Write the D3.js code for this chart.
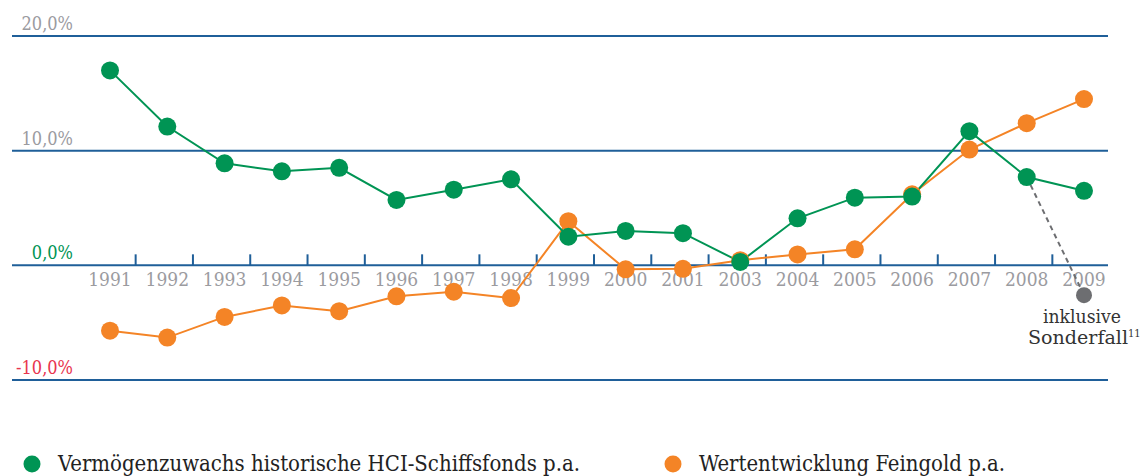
<!DOCTYPE html>
<html>
<head>
<meta charset="utf-8">
<script src="https://cdn.jsdelivr.net/npm/d3@7"></script>
<style>
  body { margin: 0; background: #fff; }
  svg { display: block; }
  svg text { font-family: "DejaVu Serif Condensed", "DejaVu Serif", serif; font-stretch: condensed; }
</style>
</head>
<body>
<svg width="1146" height="476"></svg>
<script>
// Years on the axis (2002 is not shown in the original).
var years = ["1991", "1992", "1993", "1994", "1995", "1996", "1997", "1998", "1999",
    "2000", "2001", "2003", "2004", "2005", "2006", "2007", "2008", "2009"];

// Vermögenzuwachs historische HCI-Schiffsfonds p.a. (%)
var schiffsfonds = [17.0, 12.1, 8.9, 8.2, 8.5, 5.7, 6.6, 7.5, 2.5,
    3.0, 2.8, 0.3, 4.1, 5.9, 6.0, 11.7, 7.7, 6.5];

// Wertentwicklung Feingold p.a. (%)
var feingold = [-5.7, -6.3, -4.5, -3.5, -4.0, -2.7, -2.3, -2.85, 3.85,
    -0.35, -0.3, 0.45, 0.95, 1.4, 6.2, 10.1, 12.4, 14.5];

// 2009 inklusive Sonderfall
var sonderfall = { year: "2009", value: -2.6, from: "2008" };

var yTicks = [20, 10, 0, -10];
var yTickLabels = ["20,0%", "10,0%", "0,0%", "-10,0%"];
var legendLabels = ["Vermögenzuwachs historische HCI-Schiffsfonds p.a.", "Wertentwicklung Feingold p.a."];

var green = "#009454", orange = "#f48426", blue = "#1f5f99", grey = "#9b9b9f";

var svg = d3.select("svg");

var x = d3.scalePoint().domain(years).range([110, 1084]);
var y = d3.scaleLinear().domain([-10, 20]).range([380, 36]);

// gridlines
svg.append("g")
    .selectAll("line")
    .data(yTicks)
    .enter().append("line")
    .attr("x1", 12)
    .attr("x2", 1108)
    .attr("y1", function (d) { return y(d); })
    .attr("y2", function (d) { return y(d); })
    .attr("stroke", blue)
    .attr("stroke-width", 2);

// y labels
svg.append("g")
    .selectAll("text")
    .data(yTicks)
    .enter().append("text")
    .attr("x", 73)
    .attr("y", function (d) { return y(d) - 6; })
    .attr("text-anchor", "end")
    .attr("font-size", 18)
    .attr("fill", function (d) {
        if (d === 0) return green;
        if (d < 0) return "#e8344e";
        return grey;
    })
    .text(function (d, i) { return yTickLabels[i]; });

// small ticks between years on the zero line
var step = x.step();
svg.append("g")
    .selectAll("line")
    .data(years.slice(0, -1))
    .enter().append("line")
    .attr("x1", function (d) { return x(d) + step / 2 - 3; })
    .attr("x2", function (d) { return x(d) + step / 2 - 3; })
    .attr("y1", y(0))
    .attr("y2", y(0) - 11)
    .attr("stroke", blue)
    .attr("stroke-width", 2);

// year labels
svg.append("g")
    .selectAll("text")
    .data(years)
    .enter().append("text")
    .attr("x", function (d) { return x(d); })
    .attr("y", y(0) + 21)
    .attr("text-anchor", "middle")
    .attr("font-size", 19)
    .attr("fill", grey)
    .text(function (d) { return d; });

// dashed line to the Sonderfall point
svg.append("line")
    .attr("x1", x(sonderfall.from))
    .attr("y1", y(schiffsfonds[years.indexOf(sonderfall.from)]))
    .attr("x2", x(sonderfall.year))
    .attr("y2", y(sonderfall.value))
    .attr("stroke", "#6d6e71")
    .attr("stroke-width", 2)
    .attr("stroke-dasharray", "5,4");

var line = d3.line()
    .x(function (d, i) { return x(years[i]); })
    .y(function (d) { return y(d); });

svg.append("path")
    .datum(feingold)
    .attr("d", line)
    .attr("fill", "none")
    .attr("stroke", orange)
    .attr("stroke-width", 2);

svg.append("path")
    .datum(schiffsfonds)
    .attr("d", line)
    .attr("fill", "none")
    .attr("stroke", green)
    .attr("stroke-width", 2);

svg.append("g")
    .selectAll("circle")
    .data(feingold)
    .enter().append("circle")
    .attr("cx", function (d, i) { return x(years[i]); })
    .attr("cy", function (d) { return y(d); })
    .attr("r", 9)
    .attr("fill", orange);

svg.append("g")
    .selectAll("circle")
    .data(schiffsfonds)
    .enter().append("circle")
    .attr("cx", function (d, i) { return x(years[i]); })
    .attr("cy", function (d) { return y(d); })
    .attr("r", 9)
    .attr("fill", green);

svg.append("circle")
    .attr("cx", x(sonderfall.year))
    .attr("cy", y(sonderfall.value))
    .attr("r", 8)
    .attr("fill", "#6d6e71");

var note = svg.append("text")
    .attr("font-size", 19)
    .attr("fill", "#333");
note.append("tspan").attr("x", 1043).attr("y", 323)
    .attr("textLength", 78).attr("lengthAdjust", "spacingAndGlyphs").text("inklusive");
note.append("tspan").attr("x", 1028).attr("y", 344)
    .attr("textLength", 100).attr("lengthAdjust", "spacingAndGlyphs").text("Sonderfall");
note.append("tspan").attr("font-size", 11).attr("dy", -7).text("11");

// legend
var legend = svg.selectAll("g.legend")
    .data(legendLabels)
    .enter().append("g")
    .attr("class", "legend")
    .attr("transform", function (d, i) { return "translate(" + (i === 0 ? 32 : 673) + ",464)"; });

legend.append("circle")
    .attr("r", 8.5)
    .attr("fill", function (d, i) { return i === 0 ? green : orange; });

legend.append("text")
    .attr("x", 26)
    .attr("y", 7)
    .attr("font-size", 23)
    .attr("fill", "#222")
    .attr("textLength", function (d, i) { return i === 0 ? 522 : 306; })
    .attr("lengthAdjust", "spacingAndGlyphs")
    .text(function (d) { return d; });
</script>
</body>
</html>
